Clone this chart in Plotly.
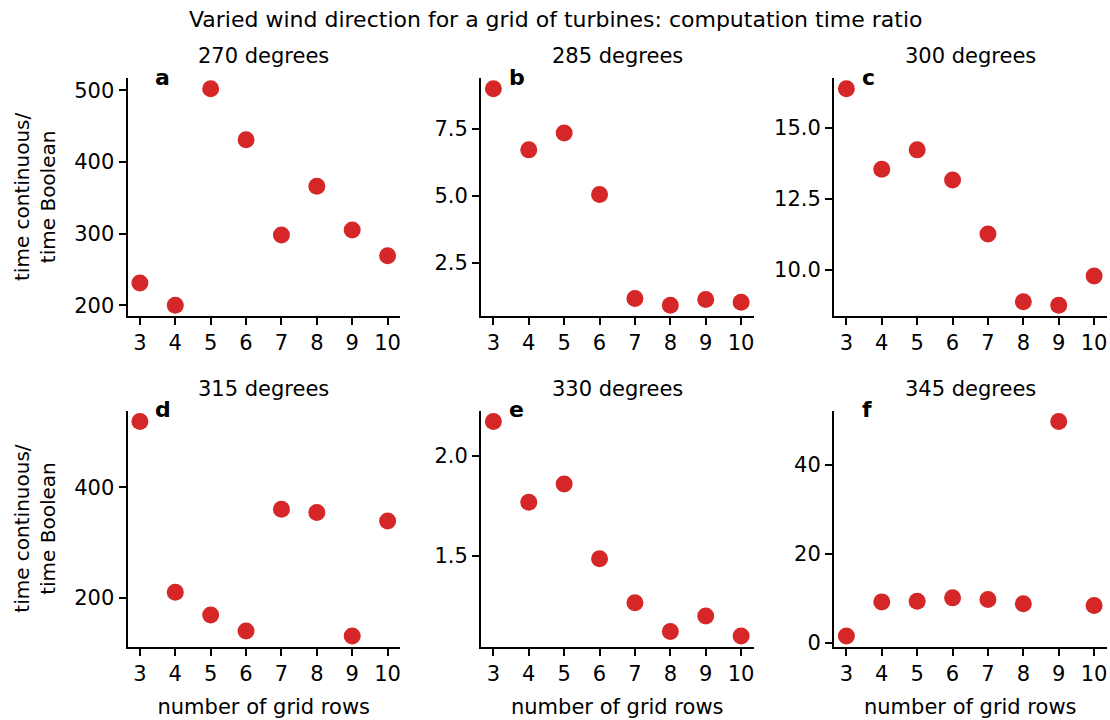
import plotly.graph_objects as go
from plotly.subplots import make_subplots

# ---- data ----
grid_rows = [3, 4, 5, 6, 7, 8, 9, 10]
ratio_270 = [231, 200, 502, 431, 298, 366, 305, 269]
ratio_285 = [9.0, 6.72, 7.35, 5.05, 1.17, 0.92, 1.13, 1.03]
ratio_300 = [16.38, 13.55, 14.23, 13.17, 11.27, 8.88, 8.76, 9.79]
ratio_315 = [519.5, 210, 168.7, 139.8, 360.4, 354.3, 130.8, 339.3]
ratio_330 = [2.173, 1.768, 1.859, 1.485, 1.264, 1.120, 1.198, 1.098]
ratio_345 = [1.5, 9.16, 9.3, 10.06, 9.68, 8.72, 49.7, 8.34]

panel_titles = ["270 degrees", "285 degrees", "300 degrees",
                "315 degrees", "330 degrees", "345 degrees"]
panel_letters = ["a", "b", "c", "d", "e", "f"]
series = [ratio_270, ratio_285, ratio_300, ratio_315, ratio_330, ratio_345]
y_dticks = [100, 2.5, 2.5, 200, 0.5, 20]
y_formats = ["d", ".1f", ".1f", "d", ".1f", "d"]

main_title = "Varied wind direction for a grid of turbines: computation time ratio"
x_label = "number of grid rows"
y_label = "time continuous/<br>time Boolean"

# ---- style ----
FONT = "DejaVu Sans"
RED = "#d62728"
W, H = 1110, 720
col_px = [(127.5, 400.0), (481.0, 753.5), (834.0, 1106.5)]
row_px = [(78.0, 316.0), (410.7, 646.7)]
FS = 21

fig = make_subplots(rows=2, cols=3)

for i, ys in enumerate(series):
    r, c = divmod(i, 3)
    fig.add_trace(
        go.Scatter(x=grid_rows, y=ys, mode="markers",
                   marker=dict(color=RED, size=17, line=dict(width=0)),
                   showlegend=False, cliponaxis=False),
        row=r + 1, col=c + 1)

    lo, hi = min(ys), max(ys)
    pad = 0.05 * (hi - lo)
    xlo, xhi = min(grid_rows), max(grid_rows)
    xpad = 0.05 * (xhi - xlo)

    x0, x1 = col_px[c]
    y0, y1 = row_px[r]
    axis_common = dict(showline=True, linecolor="black", linewidth=2,
                       ticks="outside", ticklen=7, tickwidth=1.8, tickcolor="black",
                       showgrid=False, zeroline=False, automargin=False,
                       tickfont=dict(family=FONT, size=FS, color="black"))
    fig.update_xaxes(domain=[x0 / W, x1 / W], range=[xlo - xpad, xhi + xpad],
                     tickmode="linear", tick0=3, dtick=1,
                     title=dict(text=x_label if r == 1 else "",
                                font=dict(family=FONT, size=FS, color="black"),
                                standoff=14),
                     row=r + 1, col=c + 1, **axis_common)
    fig.update_yaxes(domain=[1 - y1 / H, 1 - y0 / H], range=[lo - pad, hi + pad],
                     tickmode="linear", tick0=0, dtick=y_dticks[i],
                     tickformat=y_formats[i],
                     row=r + 1, col=c + 1, **axis_common)

    ax_suffix = "" if i == 0 else str(i + 1)
    fig.add_annotation(text=panel_titles[i], xref=f"x{ax_suffix} domain",
                       yref=f"y{ax_suffix} domain", x=0.5, y=1.0,
                       xanchor="center", yanchor="bottom", yshift=8,
                       showarrow=False,
                       font=dict(family=FONT, size=FS, color="black"))
    fig.add_annotation(text=f"<b>{panel_letters[i]}</b>", xref=f"x{ax_suffix} domain",
                       yref=f"y{ax_suffix} domain", x=0.095, y=1.0,
                       xanchor="left", yanchor="middle", yshift=1,
                       showarrow=False,
                       font=dict(family=FONT, size=22, color="black"))
    if c == 0:
        fig.add_annotation(text=y_label, xref="paper", yref=f"y{ax_suffix} domain",
                           x=35 / W, y=0.5, xanchor="center", yanchor="middle",
                           textangle=-90, showarrow=False,
                           font=dict(family=FONT, size=20, color="black"))

fig.add_annotation(text=main_title, xref="paper", yref="paper",
                   x=555 / W, y=1 - 19 / H,
                   xanchor="center", yanchor="middle",
                   showarrow=False, font=dict(family=FONT, size=22, color="black"))

fig.update_layout(width=W, height=H, margin=dict(l=0, r=0, t=0, b=0),
                  paper_bgcolor="white", plot_bgcolor="white",
                  font=dict(family=FONT, color="black"))

fig.write_html("out.html",
               config={"displayModeBar": False},
               post_script="document.body.style.margin='0px';"
                           "document.body.style.overflow='hidden';")
